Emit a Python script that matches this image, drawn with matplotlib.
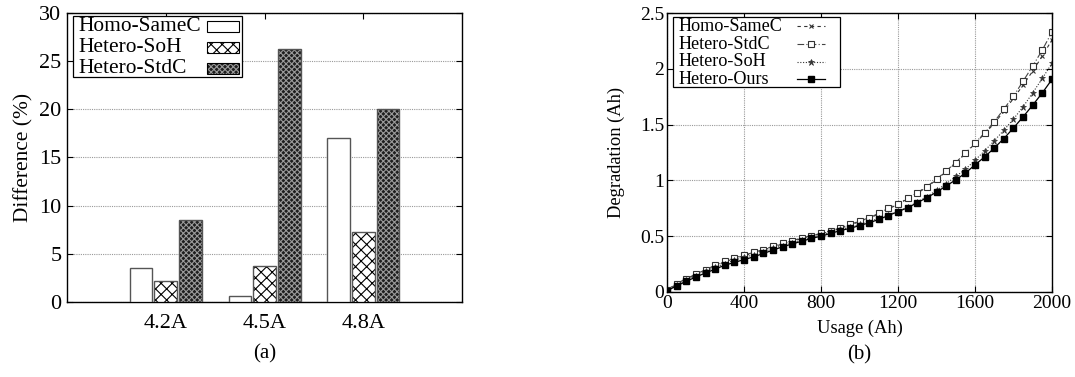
import matplotlib
matplotlib.use("Agg")
import matplotlib.pyplot as plt
import matplotlib.patches as mpatches
from matplotlib.lines import Line2D
import numpy as np

plt.rcParams['font.family'] = ['Liberation Serif', 'DejaVu Serif']
plt.rcParams['hatch.linewidth'] = 0.8

# (a) difference per current
groups = ['4.2A', '4.5A', '4.8A']
bar_names = ['Homo-SameC', 'Hetero-SoH', 'Hetero-StdC']
homo_samec = [3.5, 0.6, 17.0]
hetero_soh = [2.15, 3.7, 7.25]
hetero_stdc = [8.5, 26.25, 20.0]

# (b) degradation vs usage
usage = list(range(0, 2001, 50))
deg_samec = [0.015, 0.07, 0.115, 0.155, 0.195, 0.235, 0.27, 0.3, 0.325, 0.35, 0.375, 0.405,
             0.43, 0.455, 0.48, 0.5, 0.52, 0.545, 0.57, 0.6, 0.63, 0.66, 0.7, 0.745, 0.785,
             0.835, 0.885, 0.94, 1.005, 1.08, 1.155, 1.24, 1.33, 1.42, 1.51, 1.62, 1.735,
             1.855, 1.98, 2.115, 2.26]
deg_stdc = [0.02, 0.075, 0.12, 0.16, 0.2, 0.24, 0.275, 0.305, 0.33, 0.355, 0.38, 0.41,
            0.435, 0.46, 0.485, 0.505, 0.525, 0.55, 0.575, 0.605, 0.635, 0.665, 0.705, 0.75,
            0.79, 0.84, 0.89, 0.945, 1.01, 1.085, 1.16, 1.245, 1.335, 1.425, 1.525, 1.64,
            1.755, 1.89, 2.025, 2.17, 2.33]
deg_soh = [0.015, 0.065, 0.105, 0.145, 0.185, 0.22, 0.255, 0.285, 0.31, 0.335, 0.36, 0.39,
           0.415, 0.44, 0.465, 0.49, 0.51, 0.535, 0.56, 0.58, 0.605, 0.63, 0.66, 0.69, 0.725,
           0.76, 0.805, 0.855, 0.91, 0.97, 1.035, 1.1, 1.18, 1.265, 1.355, 1.45, 1.55, 1.66,
           1.785, 1.915, 2.05]
deg_ours = [0.01, 0.055, 0.095, 0.135, 0.17, 0.205, 0.24, 0.265, 0.29, 0.315, 0.345, 0.375,
            0.405, 0.43, 0.455, 0.48, 0.5, 0.525, 0.55, 0.57, 0.595, 0.62, 0.65, 0.685, 0.72,
            0.755, 0.8, 0.845, 0.895, 0.95, 1.005, 1.065, 1.14, 1.21, 1.29, 1.375, 1.47,
            1.57, 1.675, 1.785, 1.905]

fig = plt.figure(figsize=(10.75, 3.77), dpi=100)
ax1 = fig.add_axes([0.0623, 0.199, 0.3677, 0.7665])
ax2 = fig.add_axes([0.6205, 0.2255, 0.3581, 0.74])


def box_legend(ax, x0, x1, y0, y1, rows, fs):
    # gnuplot style key: text left-aligned, sample on the right
    ax.add_patch(mpatches.Rectangle((x0, y0), x1 - x0, y1 - y0, transform=ax.transAxes,
                                    facecolor='white', edgecolor='black', lw=0.9,
                                    zorder=10, clip_on=False))
    for ty, label, draw in rows:
        ax.text(x0 + 0.013, ty, label, transform=ax.transAxes, ha='left', va='center',
                fontsize=fs, zorder=11)
        draw(ty)


# ---- (a) bars
x = np.arange(len(groups))
w = 0.23
edge = '#555555'
stdc_face, stdc_hatch = '#1e1e1e', '#9a9a9a'
ax1.bar(x - 0.25, homo_samec, w, facecolor='white', edgecolor=edge, lw=1, zorder=3)
ax1.bar(x, hetero_soh, w, facecolor='white', edgecolor='black', hatch='xxx', lw=0,
        zorder=3)
ax1.bar(x, hetero_soh, w, facecolor='none', edgecolor=edge, lw=1, zorder=4)
ax1.bar(x + 0.25, hetero_stdc, w, facecolor=stdc_face, edgecolor=stdc_hatch,
        hatch='xxxxxx', lw=0, zorder=3)
ax1.bar(x + 0.25, hetero_stdc, w, facecolor='none', edgecolor=edge, lw=1, zorder=4)


def patch_drawer(ax, face, hatch, hcol):
    def draw(ty):
        r = (0.354, ty - 0.019, 0.08, 0.038)
        ax.add_patch(mpatches.Rectangle(r[:2], r[2], r[3], transform=ax.transAxes,
                                        facecolor=face, edgecolor=hcol, hatch=hatch, lw=0,
                                        zorder=11))
        ax.add_patch(mpatches.Rectangle(r[:2], r[2], r[3], transform=ax.transAxes,
                                        facecolor='none', edgecolor='black', lw=0.8,
                                        zorder=12))
    return draw


box_legend(ax1, 0.015, 0.444, 0.779, 0.99, [
    (0.953, bar_names[0], patch_drawer(ax1, 'white', None, 'black')),
    (0.882, bar_names[1], patch_drawer(ax1, 'white', 'xxx', 'black')),
    (0.809, bar_names[2], patch_drawer(ax1, stdc_face, 'xxxxxx', stdc_hatch)),
], 15.4)

ax1.set_xlim(-1, 3)
ax1.set_ylim(0, 30)
ax1.set_xticks(x)
ax1.set_xticklabels(groups)
ax1.set_yticks([0, 5, 10, 15, 20, 25, 30])
ax1.yaxis.grid(True, linestyle=(0, (1, 1)), color='#999999', lw=0.8)
ax1.set_axisbelow(True)
ax1.tick_params(direction='in', top=True, right=True, length=4, labelsize=16)
ax1.tick_params(axis='x', pad=9)
ax1.tick_params(axis='y', pad=4)
ax1.set_ylabel('Difference (%)', fontsize=15.4, labelpad=4)
ax1.text(0.5, -0.18, '(a)', transform=ax1.transAxes, ha='center', va='center',
         fontsize=15)

# ---- (b) lines
styles = [
    (deg_samec, dict(color='#333333', ls=(0, (3, 3)), lw=0.8, marker='x', ms=3.5, mew=0.8)),
    (deg_stdc, dict(color='#444444', ls=(0, (6, 2, 1, 2)), lw=0.8, marker='s', ms=4.5,
                    mfc='white', mec='#333333', mew=0.8)),
    (deg_soh, dict(color='#333333', ls=(0, (1, 1.5)), lw=0.8, marker='*', ms=4.5,
                   mew=0.5)),
    (deg_ours, dict(color='black', ls='-', lw=0.9, marker='s', ms=4.8, mfc='black',
                    mec='black')),
]
line_names = ['Homo-SameC', 'Hetero-StdC', 'Hetero-SoH', 'Hetero-Ours']
for ys, st in styles:
    ax2.plot(usage, ys, **st)


def line_drawer(ax, st):
    def draw(ty):
        kw = {k: v for k, v in st.items() if k != 'marker'}
        ax.add_line(Line2D([0.338, 0.41], [ty, ty], transform=ax.transAxes, zorder=11,
                           **kw))
        ax.add_line(Line2D([0.374], [ty], transform=ax.transAxes, zorder=12,
                           marker=st['marker'], ls='none',
                           **{k: v for k, v in st.items()
                              if k in ('ms', 'mfc', 'mec', 'mew', 'color')}))
    return draw


box_legend(ax2, 0.016, 0.449, 0.734, 0.985, [
    (ty, name, line_drawer(ax2, st))
    for ty, name, (_, st) in zip([0.953, 0.888, 0.825, 0.762], line_names, styles)
], 13.1)

ax2.set_xlim(0, 2000)
ax2.set_ylim(0, 2.5)
ax2.set_xticks([0, 400, 800, 1200, 1600, 2000])
ax2.set_yticks([0, 0.5, 1, 1.5, 2, 2.5])
ax2.set_yticklabels(['0', '0.5', '1', '1.5', '2', '2.5'])
ax2.grid(True, linestyle=(0, (1, 1)), color='#999999', lw=0.8)
ax2.set_axisbelow(True)
ax2.tick_params(direction='in', top=True, right=True, length=4, labelsize=14, pad=2)
ax2.set_xlabel('Usage (Ah)', fontsize=13.3, labelpad=6)
ax2.set_ylabel('Degradation (Ah)', fontsize=13.3, labelpad=11)
ax2.text(0.5, -0.225, '(b)', transform=ax2.transAxes, ha='center', va='center',
         fontsize=15)

for ax in (ax1, ax2):
    for s in ax.spines.values():
        s.set_linewidth(1.0)

fig.savefig('out.png', dpi=100)
